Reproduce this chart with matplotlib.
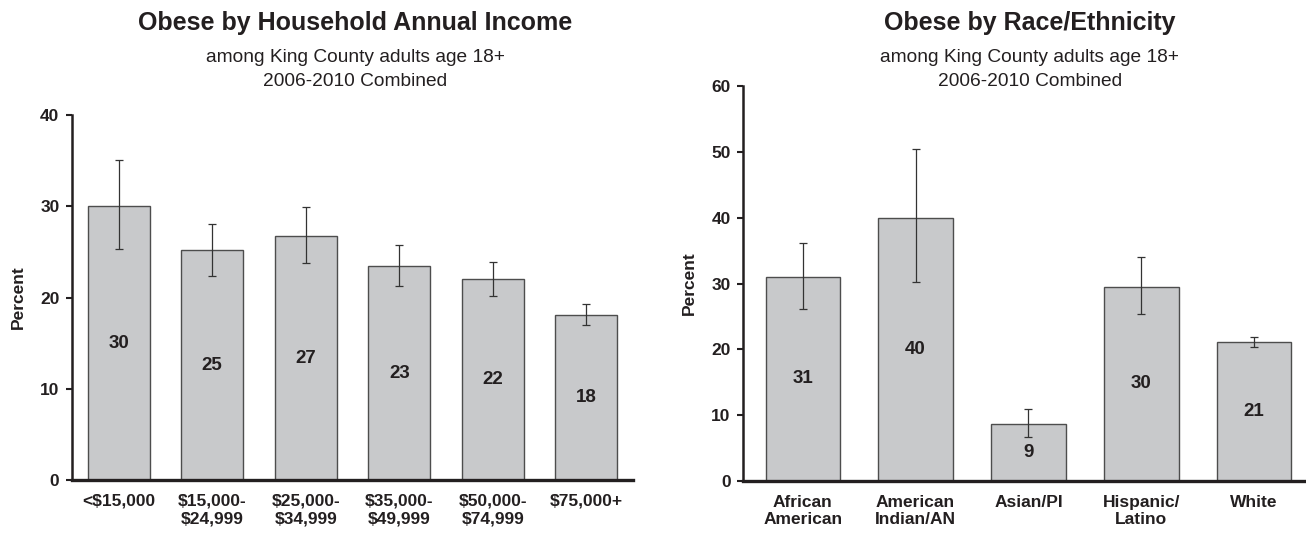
import numpy as np
import matplotlib
matplotlib.use('Agg')
import matplotlib.pyplot as plt

plt.rcParams['font.family'] = ['Liberation Sans', 'DejaVu Sans']

income_labels = ['<$15,000', '$15,000-\n$24,999', '$25,000-\n$34,999',
                 '$35,000-\n$49,999', '$50,000-\n$74,999', '$75,000+']
income_vals = [30.0, 25.2, 26.7, 23.4, 22.0, 18.1]
income_lo = [25.3, 22.4, 23.8, 21.3, 20.2, 17.0]
income_hi = [35.1, 28.1, 29.9, 25.7, 23.9, 19.3]
income_text = ['30', '25', '27', '23', '22', '18']

race_labels = ['African\nAmerican', 'American\nIndian/AN', 'Asian/PI',
               'Hispanic/\nLatino', 'White']
race_vals = [31.0, 40.0, 8.7, 29.5, 21.1]
race_lo = [26.1, 30.3, 6.7, 25.3, 20.3]
race_hi = [36.2, 50.4, 11.0, 34.0, 21.9]
race_text = ['31', '40', '9', '30', '21']

W, H = 1306, 533
fig = plt.figure(figsize=(W / 100, H / 100), dpi=100)

txt = '#231f20'
bar_face = '#c8c9cb'
bar_edge = '#4d4d4d'


def px_axes(x0, x1, y_top, y_bot):
    return fig.add_axes([x0 / W, (H - y_bot) / H, (x1 - x0) / W, (y_bot - y_top) / H])


def draw(ax, labels, vals, lo, hi, text, ymax, xlim):
    x = np.arange(len(vals))
    vals = np.array(vals)
    err = [vals - np.array(lo), np.array(hi) - vals]
    ax.bar(x, vals, width=0.66, color=bar_face, edgecolor=bar_edge, linewidth=1, zorder=2)
    ax.errorbar(x, vals, yerr=err, fmt='none', ecolor='#333333', elinewidth=0.9,
                capsize=3, capthick=0.9, zorder=3)
    for xi, v, t in zip(x, vals, text):
        ax.text(xi, v / 2, t, ha='center', va='center', fontsize=13.5,
                fontweight='bold', color=txt, zorder=4)
    ax.set_xlim(*xlim)
    ax.set_ylim(0, ymax)
    ax.set_yticks(np.arange(0, ymax + 1, 10))
    ax.set_xticks(x)
    ax.set_xticklabels(labels, fontsize=12.5, fontweight='bold', color=txt, linespacing=1.2)
    ax.tick_params(axis='x', length=0, pad=10)
    ax.tick_params(axis='y', length=4, width=1.5, direction='out', pad=5,
                   labelsize=12.5, color=txt, labelcolor=txt)
    for lab in ax.get_yticklabels():
        lab.set_fontweight('bold')
    ax.spines['top'].set_visible(False)
    ax.spines['right'].set_visible(False)
    ax.spines['left'].set_linewidth(1.8)
    ax.spines['bottom'].set_linewidth(2.4)
    ax.spines['left'].set_color(txt)
    ax.spines['bottom'].set_color(txt)
    ax.set_ylabel('Percent', fontsize=12.5, fontweight='bold', color=txt, labelpad=10)


ax1 = px_axes(72, 633, 115, 480)
draw(ax1, income_labels, income_vals, income_lo, income_hi, income_text, 40, (-0.5, 5.5))

ax2 = px_axes(743, 1306, 86, 481)
draw(ax2, race_labels, race_vals, race_lo, race_hi, race_text, 60, (-0.53, 4.46))

for cx, title in [(355, 'Obese by Household Annual Income'), (1030, 'Obese by Race/Ethnicity')]:
    fig.text(cx / W, 1 - 23 / H, title, ha='center', va='center', fontsize=18,
             fontweight='bold', color=txt)
    fig.text(cx / W, 1 - 58 / H, 'among King County adults age 18+', ha='center',
             va='center', fontsize=13.8, color=txt)
    fig.text(cx / W, 1 - 82 / H, '2006-2010 Combined', ha='center', va='center',
             fontsize=13.8, color=txt)

fig.savefig('out.png', dpi=100)
